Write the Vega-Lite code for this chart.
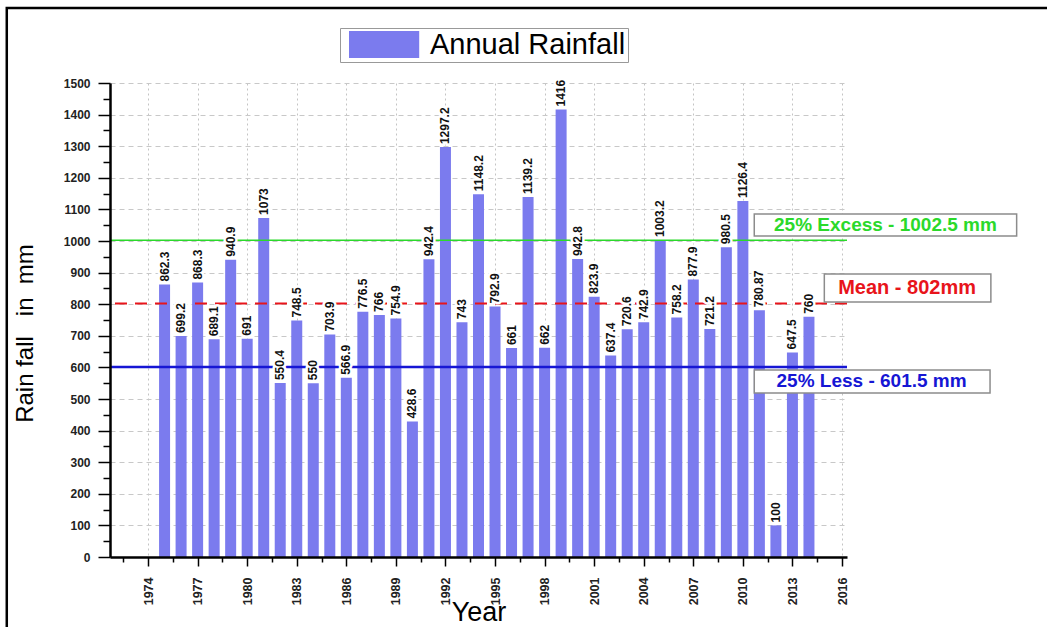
{
  "$schema": "https://vega.github.io/schema/vega-lite/v6.json",
  "width": 737,
  "height": 474,
  "autosize": {"type": "none"},
  "padding": {"left": 110, "top": 83, "right": 200, "bottom": 70},
  "background": "white",
  "datasets": {
    "rainfall": [
      {"year": 1975, "rain": 862.3}, {"year": 1976, "rain": 699.2}, {"year": 1977, "rain": 868.3},
      {"year": 1978, "rain": 689.1}, {"year": 1979, "rain": 940.9}, {"year": 1980, "rain": 691},
      {"year": 1981, "rain": 1073}, {"year": 1982, "rain": 550.4}, {"year": 1983, "rain": 748.5},
      {"year": 1984, "rain": 550}, {"year": 1985, "rain": 703.9}, {"year": 1986, "rain": 566.9},
      {"year": 1987, "rain": 776.5}, {"year": 1988, "rain": 766}, {"year": 1989, "rain": 754.9},
      {"year": 1990, "rain": 428.6}, {"year": 1991, "rain": 942.4}, {"year": 1992, "rain": 1297.2},
      {"year": 1993, "rain": 743}, {"year": 1994, "rain": 1148.2}, {"year": 1995, "rain": 792.9},
      {"year": 1996, "rain": 661}, {"year": 1997, "rain": 1139.2}, {"year": 1998, "rain": 662},
      {"year": 1999, "rain": 1416}, {"year": 2000, "rain": 942.8}, {"year": 2001, "rain": 823.9},
      {"year": 2002, "rain": 637.4}, {"year": 2003, "rain": 720.6}, {"year": 2004, "rain": 742.9},
      {"year": 2005, "rain": 1003.2}, {"year": 2006, "rain": 758.2}, {"year": 2007, "rain": 877.9},
      {"year": 2008, "rain": 721.2}, {"year": 2009, "rain": 980.5}, {"year": 2010, "rain": 1126.4},
      {"year": 2011, "rain": 780.87}, {"year": 2012, "rain": 100}, {"year": 2013, "rain": 647.5},
      {"year": 2014, "rain": 760}
    ],
    "one": [{}]
  },
  "layer": [
    {
      "data": {"name": "rainfall"},
      "mark": {"type": "bar", "orient": "vertical", "size": 11, "color": "#7b7bee"},
      "encoding": {
        "x": {
          "field": "year", "type": "quantitative",
          "scale": {"domain": [1972, 2016], "nice": false, "zero": false},
          "axis": {
            "orient": "bottom", "zindex": 0,
            "values": [1974, 1977, 1980, 1983, 1986, 1989, 1992, 1995, 1998, 2001, 2004, 2007, 2010, 2013, 2016],
            "format": "d", "labelAngle": 270, "labelFlush": false, "labelOverlap": false, "labelBound": false,
            "labelFont": "Liberation Sans", "labelFontWeight": "bold", "labelFontSize": 12.5, "labelColor": "#222",
            "labelPadding": 11, "tickSize": 9, "tickColor": "black", "tickWidth": 1.5, "domain": false,
            "grid": true, "gridDash": [2, 3], "gridColor": "#c4c4c4", "gridWidth": 1,
            "title": "Year", "titleFont": "Liberation Sans", "titleFontSize": 27, "titleFontWeight": "normal",
            "titleColor": "black", "titlePadding": -5
          }
        },
        "y": {
          "field": "rain", "type": "quantitative",
          "scale": {"domain": [0, 1500], "nice": false},
          "axis": {
            "orient": "left", "zindex": 0, "format": "d",
            "values": [0, 100, 200, 300, 400, 500, 600, 700, 800, 900, 1000, 1100, 1200, 1300, 1400, 1500],
            "labelFont": "Liberation Sans", "labelFontWeight": "bold", "labelFontSize": 12, "labelColor": "#222",
            "labelPadding": 8, "tickSize": 12, "tickColor": "black", "tickWidth": 1.5, "domain": false,
            "grid": true, "gridDash": [5, 4], "gridColor": "#c8c8c8", "gridWidth": 1,
            "title": "Rain fall\u00a0\u00a0\u00a0in\u00a0\u00a0mm", "titleFont": "Liberation Sans", "titleFontSize": 24,
            "titleFontWeight": "normal", "titleColor": "black", "titlePadding": 26, "titleY": 250
          }
        },
        "color": {
          "datum": "Annual Rainfall",
          "scale": {"range": ["#7b7bee"]},
          "legend": {
            "title": null, "orient": "none", "legendX": 230, "legendY": -55,
            "symbolType": "M-1,-1H4.2V1H-1Z", "symbolSize": 729, "symbolStrokeWidth": 0, "symbolOpacity": 1,
            "symbolOffset": 6, "labelOffset": 53, "labelLimit": 0,
            "labelFont": "Liberation Sans", "labelFontSize": 29, "labelColor": "black",
            "padding": 2, "strokeColor": "#999", "fillColor": "white"
          }
        }
      }
    },
    {
      "data": {"name": "one"},
      "mark": {"type": "rule", "color": "#2bd92b", "strokeWidth": 1.6},
      "encoding": {
        "y": {
          "datum": 1002.5, "type": "quantitative",
          "axis": {
            "orient": "left", "zindex": 1, "labels": false, "grid": false, "title": null,
            "values": [50, 150, 250, 350, 450, 550, 650, 750, 850, 950, 1050, 1150, 1250, 1350, 1450],
            "tickSize": 7, "tickColor": "black", "tickWidth": 1.5,
            "domain": true, "domainColor": "black", "domainWidth": 2.5
          }
        }
      }
    },
    {
      "data": {"name": "one"},
      "mark": {"type": "rule", "color": "#e8141b", "strokeWidth": 2, "strokeDash": [12, 8]},
      "encoding": {"y": {"datum": 802, "type": "quantitative", "axis": null}}
    },
    {
      "data": {"name": "one"},
      "mark": {"type": "rule", "color": "#1616d4", "strokeWidth": 2.4},
      "encoding": {"y": {"datum": 601.5, "type": "quantitative", "axis": null}}
    },
    {
      "data": {"name": "rainfall"},
      "mark": {"type": "text", "angle": 270, "align": "left", "baseline": "middle", "dx": 3,
               "font": "Liberation Sans", "fontWeight": "bold", "fontSize": 12,
               "fill": "white", "stroke": "white", "strokeWidth": 5, "strokeJoin": "round"},
      "encoding": {
        "x": {"field": "year", "type": "quantitative", "axis": null},
        "y": {"field": "rain", "type": "quantitative", "axis": null},
        "text": {"field": "rain", "type": "nominal"}
      }
    },
    {
      "data": {"name": "rainfall"},
      "mark": {"type": "text", "angle": 270, "align": "left", "baseline": "middle", "dx": 3,
               "font": "Liberation Sans", "fontWeight": "bold", "fontSize": 12, "color": "#111"},
      "encoding": {
        "x": {
          "field": "year", "type": "quantitative",
          "axis": {
            "orient": "bottom", "zindex": 1, "labels": false, "grid": false, "title": null,
            "values": [1972.5, 1975.5, 1978.5, 1981.5, 1984.5, 1987.5, 1990.5, 1993.5, 1996.5, 1999.5, 2002.5, 2005.5, 2008.5, 2011.5, 2014.5],
            "tickSize": 5, "tickColor": "black", "tickWidth": 1.5,
            "domain": true, "domainColor": "black", "domainWidth": 2.5
          }
        },
        "y": {"field": "rain", "type": "quantitative", "axis": null},
        "text": {"field": "rain", "type": "nominal"}
      }
    },
    {
      "data": {"name": "one"},
      "mark": {"type": "rect", "fill": "white", "stroke": "#8c8c8c", "strokeWidth": 1.5, "clip": false},
      "encoding": {
        "x": {"datum": 2010.69, "type": "quantitative", "axis": null},
        "x2": {"datum": 2026.57},
        "y": {"datum": 1085.5, "type": "quantitative", "axis": null},
        "y2": {"datum": 1015.8}
      }
    },
    {
      "data": {"name": "one"},
      "mark": {"type": "text", "align": "center", "baseline": "middle", "font": "Liberation Sans",
               "fontWeight": "bold", "fontSize": 19, "color": "#2bd92b", "clip": false},
      "encoding": {
        "x": {"datum": 2018.63, "type": "quantitative", "axis": null},
        "y": {"datum": 1050.6, "type": "quantitative", "axis": null},
        "text": {"value": "25% Excess - 1002.5 mm"}
      }
    },
    {
      "data": {"name": "one"},
      "mark": {"type": "rect", "fill": "white", "stroke": "#8c8c8c", "strokeWidth": 1.5, "clip": false},
      "encoding": {
        "x": {"datum": 2014.93, "type": "quantitative", "axis": null},
        "x2": {"datum": 2025.01},
        "y": {"datum": 895.6, "type": "quantitative", "axis": null},
        "y2": {"datum": 807.0}
      }
    },
    {
      "data": {"name": "one"},
      "mark": {"type": "text", "align": "center", "baseline": "middle", "font": "Liberation Sans",
               "fontWeight": "bold", "fontSize": 20, "color": "#e8141b", "clip": false},
      "encoding": {
        "x": {"datum": 2019.94, "type": "quantitative", "axis": null},
        "y": {"datum": 851.3, "type": "quantitative", "axis": null},
        "text": {"value": "Mean - 802mm"}
      }
    },
    {
      "data": {"name": "one"},
      "mark": {"type": "rect", "fill": "white", "stroke": "#8c8c8c", "strokeWidth": 1.5, "clip": false},
      "encoding": {
        "x": {"datum": 2010.69, "type": "quantitative", "axis": null},
        "x2": {"datum": 2024.96},
        "y": {"datum": 591.8, "type": "quantitative", "axis": null},
        "y2": {"datum": 519.0}
      }
    },
    {
      "data": {"name": "one"},
      "mark": {"type": "text", "align": "center", "baseline": "middle", "font": "Liberation Sans",
               "fontWeight": "bold", "fontSize": 19, "color": "#1616d4", "clip": false},
      "encoding": {
        "x": {"datum": 2017.79, "type": "quantitative", "axis": null},
        "y": {"datum": 555.4, "type": "quantitative", "axis": null},
        "text": {"value": "25% Less - 601.5 mm"}
      }
    },
    {
      "data": {"name": "one"},
      "mark": {"type": "rect", "filled": false, "stroke": "black", "strokeWidth": 2.5, "clip": false},
      "encoding": {
        "x": {"datum": 1965.45, "type": "quantitative", "axis": null},
        "x2": {"datum": 2035},
        "y": {"datum": 1737.3, "type": "quantitative", "axis": null},
        "y2": {"datum": -500}
      }
    }
  ],
  "resolve": {"axis": {"x": "independent", "y": "independent"}},
  "config": {"view": {"stroke": null}, "font": "Liberation Sans"}
}
